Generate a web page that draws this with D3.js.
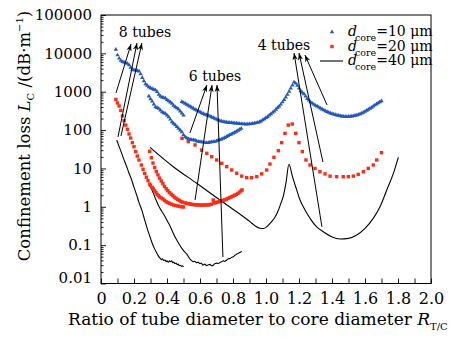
<!DOCTYPE html>
<html>
<head>
<meta charset="utf-8">
<script src="https://cdn.jsdelivr.net/npm/d3@7"></script>
<style>
  body { margin: 0; background: #fff; }
  svg { font-family: "DejaVu Serif", serif; }
</style>
</head>
<body>
<svg width="469" height="338"></svg>
<script>
// [ratio R_T/C, confinement loss dB/m]
// d_core = 10 um (blue triangles)
const blue8 = [[0.09,12600],[0.10,9000],[0.11,7400],[0.12,6500],[0.13,6000],[0.14,5900],[0.15,5600],[0.16,5400],[0.17,5000],[0.18,4300],[0.19,3800],[0.20,3700],[0.21,3600],[0.22,3500],[0.23,3400],[0.24,2900],[0.25,2300],[0.26,1900],[0.27,1600],[0.28,1450],[0.29,1320],[0.30,1250],[0.31,1200],[0.32,1150],[0.33,1100],[0.34,1000],[0.35,850],[0.36,760],[0.37,720],[0.38,700],[0.39,680],[0.40,620],[0.41,575],[0.42,530],[0.43,490],[0.44,440],[0.45,400],[0.46,375],[0.47,350],[0.48,310],[0.49,275],[0.50,245]];
const blue6 = [[0.29,760],[0.30,650],[0.31,560],[0.32,470],[0.33,400],[0.34,380],[0.35,365],[0.36,330],[0.37,295],[0.38,280],[0.39,270],[0.40,245],[0.41,220],[0.42,190],[0.43,162],[0.44,148],[0.45,135],[0.46,122],[0.47,110],[0.48,99],[0.49,89],[0.50,75],[0.51,66],[0.52,62],[0.53,59],[0.54,57],[0.55,56],[0.56,55],[0.57,54],[0.58,52],[0.59,50],[0.60,49.5],[0.61,49],[0.62,48],[0.63,47],[0.64,47],[0.65,47],[0.66,48],[0.67,49],[0.68,49.5],[0.69,50],[0.70,52],[0.71,54],[0.72,56],[0.73,58],[0.74,60],[0.75,63],[0.76,67],[0.77,71],[0.78,75],[0.79,78],[0.80,83],[0.81,87],[0.82,92],[0.83,98],[0.84,104],[0.85,110]];
const blue4 = [[0.49,550],[0.50,520],[0.51,490],[0.52,462],[0.53,435],[0.54,410],[0.55,390],[0.56,367],[0.57,345],[0.58,330],[0.59,315],[0.60,297],[0.61,280],[0.62,267],[0.63,255],[0.64,248],[0.65,240],[0.66,230],[0.67,220],[0.68,210],[0.69,200],[0.70,190],[0.71,182],[0.72,176],[0.73,170],[0.74,166],[0.75,162],[0.76,160],[0.77,158],[0.78,156],[0.79,155],[0.80,153],[0.81,151],[0.82,150],[0.83,148],[0.84,146],[0.85,145],[0.86,144],[0.87,143],[0.88,142],[0.89,143],[0.90,144],[0.91,145],[0.92,148],[0.93,151],[0.94,154],[0.95,158],[0.96,163],[0.97,170],[0.98,182],[0.99,195],[1.00,209],[1.01,224],[1.02,243],[1.03,263],[1.04,285],[1.05,309],[1.06,342],[1.07,380],[1.08,420],[1.09,468],[1.10,535],[1.11,617],[1.12,720],[1.13,850],[1.14,1020],[1.15,1230],[1.16,1480],[1.17,1780],[1.18,1650],[1.19,1450],[1.20,1230],[1.21,1050],[1.22,950],[1.23,870],[1.24,760],[1.25,660],[1.26,595],[1.27,537],[1.28,500],[1.29,468],[1.30,440],[1.31,417],[1.32,393],[1.33,372],[1.34,350],[1.35,331],[1.36,316],[1.37,302],[1.38,288],[1.39,275],[1.40,265],[1.41,257],[1.42,250],[1.43,245],[1.44,239],[1.45,234],[1.46,230],[1.47,226],[1.48,225],[1.49,224],[1.50,225],[1.51,226],[1.52,230],[1.53,234],[1.54,239],[1.55,245],[1.56,253],[1.57,263],[1.58,275],[1.59,288],[1.60,305],[1.61,324],[1.62,343],[1.63,363],[1.64,390],[1.65,417],[1.66,447],[1.67,479],[1.68,507],[1.69,537],[1.70,575]];

// d_core = 20 um (red squares)
const red8 = [[0.09,630],[0.10,510],[0.11,425],[0.12,325],[0.13,235],[0.14,176],[0.15,135],[0.16,105],[0.17,79],[0.18,62],[0.19,47],[0.20,37],[0.21,27.5],[0.22,21],[0.23,16.6],[0.245,12.3],[0.255,9.5],[0.265,7.4],[0.275,5.9],[0.285,4.8],[0.295,3.9],[0.30,3.6],[0.31,3.2],[0.318,2.9],[0.325,2.6],[0.333,2.35],[0.34,2.1],[0.348,1.95],[0.355,1.8],[0.365,1.7],[0.375,1.6],[0.385,1.47],[0.395,1.35],[0.405,1.29],[0.415,1.23],[0.428,1.17],[0.44,1.11],[0.453,1.08],[0.465,1.05],[0.478,1.02],[0.49,1.0],[0.50,0.99]];
const red6 = [[0.295,28],[0.305,19],[0.315,13.8],[0.325,10.5],[0.335,8.3],[0.345,6.8],[0.355,5.6],[0.365,4.7],[0.375,4.0],[0.385,3.4],[0.395,2.95],[0.405,2.63],[0.415,2.34],[0.425,2.14],[0.435,1.95],[0.445,1.78],[0.455,1.66],[0.465,1.55],[0.475,1.46],[0.485,1.38],[0.495,1.32],[0.51,1.26],[0.52,1.23],[0.53,1.20],[0.54,1.18],[0.55,1.16],[0.56,1.14],[0.57,1.13],[0.58,1.12],[0.59,1.12],[0.60,1.11],[0.61,1.11],[0.62,1.11],[0.63,1.11],[0.64,1.12],[0.65,1.12],[0.66,1.14],[0.67,1.17],[0.68,1.5],[0.685,1.3],[0.69,1.26],[0.70,1.3],[0.71,1.34],[0.72,1.38],[0.73,1.43],[0.74,1.47],[0.75,1.51],[0.76,1.58],[0.77,1.66],[0.78,1.74],[0.79,1.82],[0.80,1.9],[0.81,2.0],[0.82,2.1],[0.83,2.24],[0.84,2.42],[0.85,2.63],[0.855,2.75]];
const red4 = [[0.491,61],[0.529,50],[0.57,41],[0.61,30],[0.641,24.8],[0.671,20.2],[0.701,16.6],[0.732,13.6],[0.762,11.1],[0.792,9.1],[0.822,7.5],[0.853,6.3],[0.883,5.75],[0.913,5.75],[0.944,6.1],[0.974,7.2],[1.004,9.1],[1.024,13],[1.048,19.5],[1.075,29],[1.095,47],[1.115,82],[1.135,135],[1.159,144],[1.18,82],[1.20,47],[1.22,27.5],[1.242,16.6],[1.267,12.3],[1.297,10],[1.327,8.2],[1.358,7.2],[1.388,6.3],[1.428,6.1],[1.468,6.1],[1.499,6.1],[1.529,6.3],[1.559,7.0],[1.59,8.2],[1.62,10],[1.65,12.3],[1.671,16.6],[1.70,25.7]];

// d_core = 40 um (black lines)
const black8 = [[0.095,55],[0.11,37],[0.125,25],[0.14,16.5],[0.156,11.1],[0.17,7.5],[0.186,5.0],[0.20,3.2],[0.216,2.04],[0.23,1.3],[0.247,0.83],[0.262,0.5],[0.277,0.30],[0.292,0.19],[0.307,0.123],[0.322,0.085],[0.338,0.062],[0.35,0.05],[0.358,0.046],[0.365,0.042],[0.372,0.044],[0.38,0.040],[0.388,0.041],[0.395,0.037],[0.40,0.039],[0.408,0.036],[0.415,0.039],[0.422,0.037],[0.428,0.039],[0.435,0.035],[0.44,0.036],[0.448,0.033],[0.455,0.034],[0.462,0.031],[0.468,0.032],[0.475,0.029],[0.48,0.030],[0.487,0.028],[0.493,0.029],[0.50,0.027]];
const black6 = [[0.297,3.7],[0.318,2.2],[0.338,1.35],[0.352,1.0],[0.367,0.78],[0.383,0.6],[0.398,0.46],[0.413,0.35],[0.427,0.26],[0.443,0.185],[0.459,0.136],[0.474,0.105],[0.488,0.085],[0.503,0.07],[0.519,0.059],[0.53,0.05],[0.54,0.043],[0.548,0.040],[0.559,0.037],[0.567,0.038],[0.578,0.035],[0.588,0.036],[0.60,0.033],[0.608,0.034],[0.618,0.030],[0.628,0.032],[0.641,0.029],[0.65,0.031],[0.661,0.0315],[0.67,0.029],[0.681,0.030],[0.69,0.033],[0.701,0.034],[0.71,0.033],[0.721,0.0355],[0.73,0.037],[0.741,0.039],[0.75,0.038],[0.762,0.041],[0.772,0.044],[0.782,0.045],[0.792,0.048],[0.802,0.050],[0.813,0.055],[0.824,0.059],[0.838,0.063],[0.853,0.068]];
const black4 = [[0.297,35.5],[0.438,11.1],[0.58,4.1],[0.721,1.5],[0.822,0.74],[0.903,0.41],[0.933,0.32],[0.964,0.275],[0.985,0.272],[1.004,0.30],[1.03,0.39],[1.055,0.54],[1.073,0.78],[1.091,1.26],[1.105,1.9],[1.121,4.2],[1.139,12.9],[1.161,6.0],[1.186,2.75],[1.206,1.5],[1.226,1.0],[1.267,0.50],[1.307,0.30],[1.347,0.224],[1.398,0.166],[1.448,0.145],[1.499,0.15],[1.55,0.184],[1.60,0.275],[1.65,0.50],[1.691,1.0],[1.732,2.75],[1.772,7.4],[1.802,19.5]];

// ticks
const xMajor = [0, 0.2, 0.4, 0.6, 0.8, 1.0, 1.2, 1.4, 1.6, 1.8, 2.0];
const xMajorLabels = ['0', '0.2', '0.4', '0.6', '0.8', '1.0', '1.2', '1.4', '1.6', '1.8', '2.0'];
const xMinor = [0.1, 0.3, 0.5, 0.7, 0.9, 1.1, 1.3, 1.5, 1.7, 1.9];
const yMajor = [0.01, 0.1, 1, 10, 100, 1000, 10000, 100000];
const yMajorLabels = ['0.01', '0.1', '1', '10', '100', '1000', '10000', '100000'];

// annotations: label [R, L], arrows [tail, head]
const tubeLabels = [
    { text: '8 tubes', at: [0.267, 26700] },
    { text: '6 tubes', at: [0.691, 1850] },
    { text: '4 tubes', at: [1.109, 12250] },
];
const tubeArrows = [
    [[0.091, 930], [0.182, 17500]],
    [[0.103, 66], [0.218, 18600]],
    [[0.121, 70], [0.248, 18600]],
    [[0.539, 84], [0.642, 1500]],
    [[0.570, 1.5], [0.673, 1500]],
    [[0.739, 0.049], [0.703, 1500]],
    [[1.37, 450], [1.236, 9050]],
    [[1.345, 14.7], [1.20, 10200]],
    [[1.339, 0.30], [1.17, 10200]],
];

const legendItems = [
    { value: '=10 μm', kind: 'tri' },
    { value: '=20 μm', kind: 'sq' },
    { value: '=40 μm', kind: 'line' },
];

const BLUE = '#2157bd';
const RED = '#ff2b14';

const svg = d3.select('svg');
const width = +svg.attr('width');
const height = +svg.attr('height');

const render = () => {
    const margin = { top: 15, right: 38, bottom: 54.5, left: 101 };
    const innerWidth = width - margin.left - margin.right;
    const innerHeight = height - margin.top - margin.bottom;

    // SCALES
    const xScale = d3.scaleLinear().domain([0, 2]).range([0, innerWidth]);
    const yScale = d3.scaleLog().domain([0.01, 100000]).range([innerHeight, 0]);

    const g = svg.append('g')
        .attr('transform', `translate(${margin.left},${margin.top})`);

    // AXES
    const xAxis = d3.axisBottom(xScale)
        .tickValues(xMajor)
        .tickSize(-5)
        .tickPadding(9)
        .tickFormat((d, i) => xMajorLabels[i]);
    const xAxisMinor = d3.axisBottom(xScale)
        .tickValues(xMinor)
        .tickSize(-5)
        .tickFormat('');
    const yMinor = yScale.ticks().filter(d => !yMajor.some(m => Math.abs(m - d) < m * 1e-6));
    const yAxis = d3.axisLeft(yScale)
        .tickValues(yMajor)
        .tickSize(-5)
        .tickPadding(9)
        .tickFormat((d, i) => yMajorLabels[i]);
    const yAxisMinor = d3.axisLeft(yScale)
        .tickValues(yMinor)
        .tickSize(-2.5)
        .tickFormat('');

    const xg = g.append('g').attr('transform', `translate(0,${innerHeight})`).call(xAxis);
    g.append('g').attr('transform', `translate(0,${innerHeight})`).call(xAxisMinor);
    const yg = g.append('g').call(yAxis);
    g.append('g').call(yAxisMinor);

    g.selectAll('.domain').remove();
    g.selectAll('.tick line').attr('stroke', '#000').attr('stroke-width', 0.9);
    xg.selectAll('text').attr('font-size', 16).attr('font-family', '"DejaVu Serif", serif').attr('fill', '#000');
    yg.selectAll('text').attr('font-size', 15).attr('font-family', '"DejaVu Serif", serif').attr('fill', '#000');
    yg.selectAll('.tick').filter(d => d === 0.01).select('text').attr('dy', '-0.05em');

    // frame
    g.append('rect')
        .attr('width', innerWidth)
        .attr('height', innerHeight)
        .attr('fill', 'none')
        .attr('stroke', '#000')
        .attr('stroke-width', 1);

    // BLACK LINES
    const line = d3.line()
        .x(d => xScale(d[0]))
        .y(d => yScale(d[1]))
        .curve(d3.curveMonotoneX);
    [black8, black6, black4].forEach(s => {
        g.append('path')
            .attr('d', line(s))
            .attr('fill', 'none')
            .attr('stroke', '#000')
            .attr('stroke-width', 1.1);
    });

    // RED SQUARES
    g.append('g').selectAll('rect')
        .data([...red8, ...red6, ...red4])
        .enter()
        .append('rect')
            .attr('x', d => xScale(d[0]) - 1.7)
            .attr('y', d => yScale(d[1]) - 1.7)
            .attr('width', 3.4)
            .attr('height', 3.4)
            .attr('fill', RED);

    // BLUE TRIANGLES
    const tri = d3.symbol(d3.symbolTriangle, 8);
    g.append('g').selectAll('path')
        .data([...blue8, ...blue6, ...blue4])
        .enter()
        .append('path')
            .attr('d', tri)
            .attr('transform', d => `translate(${xScale(d[0])},${yScale(d[1])})`)
            .attr('fill', BLUE);

    // ANNOTATIONS
    svg.append('defs').append('marker')
        .attr('id', 'arrow')
        .attr('viewBox', '-8 -4 9 8')
        .attr('refX', 0)
        .attr('refY', 0)
        .attr('markerWidth', 9)
        .attr('markerHeight', 8)
        .attr('markerUnits', 'userSpaceOnUse')
        .attr('orient', 'auto')
      .append('path')
        .attr('d', 'M0,0 L-7,-2.6 L-5,0 L-7,2.6 Z')
        .attr('fill', '#000');

    g.append('g').selectAll('line')
        .data(tubeArrows)
        .enter()
        .append('line')
            .attr('x1', d => xScale(d[0][0]))
            .attr('y1', d => yScale(d[0][1]))
            .attr('x2', d => xScale(d[1][0]))
            .attr('y2', d => yScale(d[1][1]))
            .attr('stroke', '#000')
            .attr('stroke-width', 1)
            .attr('marker-end', 'url(#arrow)');

    g.append('g').selectAll('text')
        .data(tubeLabels)
        .enter()
        .append('text')
            .attr('x', d => xScale(d.at[0]))
            .attr('y', d => yScale(d.at[1]))
            .attr('text-anchor', 'middle')
            .attr('font-size', 14)
            .text(d => d.text);

    // LEGEND
    const lg = svg.append('g').attr('transform', 'translate(320,36)');
    legendItems.forEach((item, i) => {
        const row = lg.append('g').attr('transform', `translate(0,${i * 14.5})`);
        if (item.kind === 'tri') {
            row.append('path').attr('d', tri).attr('transform', 'translate(12,-4)').attr('fill', BLUE);
        } else if (item.kind === 'sq') {
            row.append('rect').attr('x', 10.3).attr('y', -5.7).attr('width', 3.4).attr('height', 3.4).attr('fill', RED);
        } else {
            row.append('line').attr('x1', 0).attr('x2', 23).attr('y1', -4).attr('y2', -4)
                .attr('stroke', '#000').attr('stroke-width', 1.1);
        }
        const t = row.append('text').attr('x', 28).attr('font-size', 14);
        t.append('tspan').attr('font-style', 'italic').text('d');
        t.append('tspan').attr('font-size', 9.5).attr('dy', 5).attr('dx', -2).text('core');
        t.append('tspan').attr('dy', -5).text(item.value);
    });

    // AXIS TITLES
    const xt = svg.append('text')
        .attr('x', 68)
        .attr('y', 325)
        .attr('font-size', 17);
    xt.append('tspan').text('Ratio of tube diameter to core diameter ');
    xt.append('tspan').attr('font-style', 'italic').text('R');
    xt.append('tspan').attr('font-size', 10).attr('dy', 5).text('T/C');

    const yt = svg.append('text')
        .attr('transform', 'translate(30,136) rotate(-90)')
        .attr('text-anchor', 'middle')
        .attr('font-size', 16.5);
    yt.append('tspan').text('Confinement loss ');
    yt.append('tspan').attr('font-style', 'italic').text('L');
    yt.append('tspan').attr('font-size', 10).attr('dy', 4).text('C');
    yt.append('tspan').attr('dy', -4).text(' /(dB·m');
    yt.append('tspan').attr('font-size', 10).attr('dy', -7).text('−1');
    yt.append('tspan').attr('dy', 7).text(')');
};

render();
</script>
</body>
</html>
